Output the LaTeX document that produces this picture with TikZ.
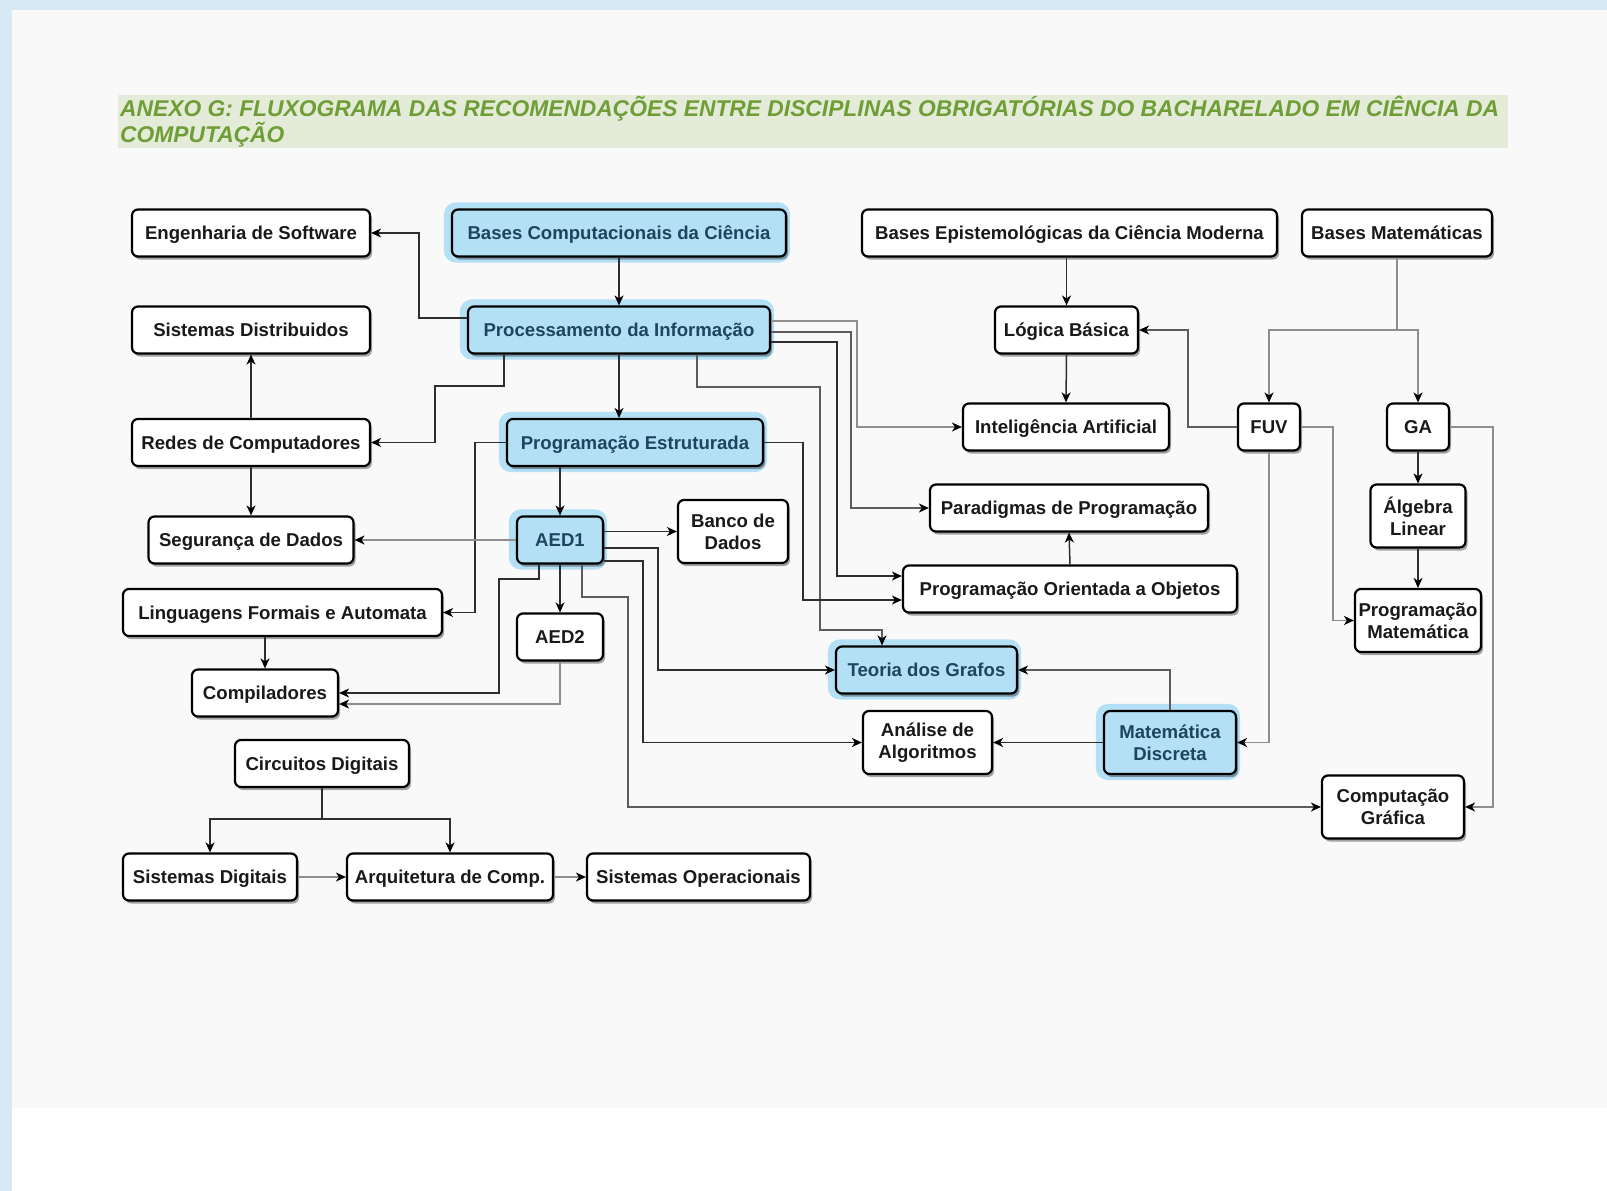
\documentclass[tikz,border=0pt]{standalone}
\usepackage{fontspec}
\setmainfont{Liberation Sans}
\usetikzlibrary{arrows.meta,shadows,backgrounds}
\definecolor{frameblue}{HTML}{D7E9F4}
\definecolor{pagegray}{HTML}{F9F9F9}
\definecolor{titlebg}{HTML}{E4EBD8}
\definecolor{titlegreen}{HTML}{6F9D36}
\definecolor{hlblue}{HTML}{B4E0F6}
\definecolor{hltext}{HTML}{1E4460}
\definecolor{edgedark}{HTML}{2E2E2E}
\definecolor{edgemid}{HTML}{5C5C5C}
\definecolor{edgelight}{HTML}{8E8E8E}
\newcommand\boxfont{\fontsize{18.6}{22}\selectfont\bfseries}
\newcommand\titlefont{\fontsize{22.8}{26}\selectfont\bfseries\itshape}
\tikzset{
  box/.style={draw=black, line width=2.2pt, rounded corners=6pt, fill=white,
    font=\boxfont, text=black!90, inner sep=0pt, minimum height=47pt,
    drop shadow={shadow xshift=2pt, shadow yshift=-3pt, opacity=0.35, fill=black}},
  one/.style={text height=13.3pt, text depth=0pt},
  two/.style={align=center, minimum height=63pt},
  hl/.style={fill=hlblue, text=hltext},
  conn/.style={line width=1.5pt, draw=edgedark,
    -{Stealth[length=10pt,width=9pt,inset=3pt,color=black]}},
  connm/.style={conn, draw=edgemid},
  connl/.style={conn, draw=edgelight},
}
\begin{document}
\begin{tikzpicture}[x=1pt,y=-1pt]
\useasboundingbox (0,0) rectangle (1607,1191);
\begin{pgfonlayer}{background}
\fill[white] (0,0) rectangle (1607,1191);
\fill[frameblue] (0,0) rectangle (1607,10);
\fill[frameblue] (0,0) rectangle (12,1191);
\fill[pagegray] (12,10) rectangle (1607,1108);
\end{pgfonlayer}
% title
\fill[titlebg] (118,95) rectangle (1508,148);
\node[anchor=base west, font=\titlefont, text=titlegreen, inner sep=0pt] (t1) at (120,116.5)
  {ANEXO G: FLUXOGRAMA DAS RECOMENDAÇÕES ENTRE DISCIPLINAS OBRIGATÓRIAS DO BACHARELADO EM CIÊNCIA DA};
\node[anchor=base west, font=\titlefont, text=titlegreen, inner sep=0pt] (t2) at (120,142.5)
  {COMPUTAÇÃO};
% nodes
\node[box,one,minimum width=238pt] (eng) at (251,233) {Engenharia de Software};
\node[box,one,hl,minimum width=334pt] (bcc) at (619,233) {Bases Computacionais da Ciência};
\node[box,one,minimum width=415pt] (bep) at (1069.5,233) {Bases Epistemológicas da Ciência Moderna};
\node[box,one,minimum width=190pt] (bmat) at (1397,233) {Bases Matemáticas};
\node[box,one,minimum width=238pt] (sd) at (251,330) {Sistemas Distribuidos};
\node[box,one,hl,minimum width=302pt] (proc) at (619,330) {Processamento da Informação};
\node[box,one,minimum width=143pt] (logb) at (1066.5,330) {Lógica Básica};
\node[box,one,minimum width=238pt] (redes) at (251,442.5) {Redes de Computadores};
\node[box,one,hl,minimum width=256pt] (pe) at (635,442.5) {Programação Estruturada};
\node[box,one,minimum width=206pt] (ia) at (1066,427) {Inteligência Artificial};
\node[box,one,minimum width=62pt] (fuv) at (1269,427) {FUV};
\node[box,one,minimum width=62pt] (ga) at (1418,427) {GA};
\node[box,one,minimum width=205pt] (seg) at (251,540) {Segurança de Dados};
\node[box,one,hl,minimum width=86pt] (aed1) at (560,540) {AED1};
\node[box,two,minimum width=110pt] (bd) at (733,531.5) {Banco de\\Dados};
\node[box,one,minimum width=278pt] (par) at (1069,508) {Paradigmas de Programação};
\node[box,two,minimum width=95pt] (alg) at (1418,516) {Álgebra\\Linear};
\node[box,one,minimum width=319pt] (ling) at (282.5,612.5) {Linguagens Formais e Automata};
\node[box,one,minimum width=86pt] (aed2) at (560,637) {AED2};
\node[box,one,minimum width=334pt] (poo) at (1070,589) {Programação Orientada a Objetos};
\node[box,two,minimum width=126pt] (pmat) at (1418,620.5) {Programação\\Matemática};
\node[box,one,minimum width=146pt] (comp) at (265,693) {Compiladores};
\node[box,one,hl,minimum width=181pt] (tg) at (926.5,670) {Teoria dos Grafos};
\node[box,two,minimum width=129pt] (aa) at (927.5,742.5) {Análise de\\Algoritmos};
\node[box,two,hl,minimum width=132pt] (md) at (1170,742.5) {Matemática\\Discreta};
\node[box,one,minimum width=174pt] (circ) at (322,763.5) {Circuitos Digitais};
\node[box,two,minimum width=142pt] (cg) at (1393,807) {Computação\\Gráfica};
\node[box,one,minimum width=174pt] (sdig) at (210,877) {Sistemas Digitais};
\node[box,one,minimum width=206pt] (arq) at (450,877) {Arquitetura de Comp.};
\node[box,one,minimum width=223pt] (so) at (698.5,877) {Sistemas Operacionais};
% highlighter blobs
\begin{pgfonlayer}{background}
\foreach \n in {bcc,proc,pe,aed1,tg,md}
  \fill[hlblue, rounded corners=12pt] ([xshift=-7pt,yshift=6pt]\n.north west) rectangle ([xshift=3pt,yshift=-5pt]\n.south east);
\end{pgfonlayer}
% connectors
\draw[conn] (bcc.south) -- (proc.north);
\draw[conn] (proc.west |- 0,318) -- (419,318) |- (eng.east);
\draw[conn] (504,0 |- proc.south) |- (435,386) |- (redes.east);
\draw[conn] (619,0 |- proc.south) -- (619,0 |- pe.north);
\draw[connl] (proc.east |- 0,321) -| (857,0 |- ia.west) -- (ia.west);
\draw[connm] (proc.east |- 0,332) -| (851,0 |- par.west) -- (par.west);
\draw[conn] (proc.east |- 0,342) -| (837,576) -- (poo.west |- 0,576);
\draw[connm] (697,0 |- proc.south) |- (820,387) |- (882,630) -- (882,0 |- tg.north);
\draw[conn] (pe.east) -| (803,600) -- (poo.west |- 0,600);
\draw[conn] (pe.west) -| (475,0 |- ling.east) -- (ling.east);
\draw[conn] (560,0 |- pe.south) -- (aed1.north);
\draw[conn] (redes.north) -- (sd.south);
\draw[conn] (redes.south) -- (seg.north);
\draw[connl] (aed1.west) -- (seg.east);
\draw[conn] (aed1.east |- bd.west) -- (bd.west);
\draw[conn] (aed1.east |- 0,548) -| (658,0 |- tg.west) -- (tg.west);
\draw[conn] (aed1.east |- 0,561) -| (643,0 |- aa.west) -- (aa.west);
\draw[connm] (582,0 |- aed1.south) |- (628,597) |- (cg.west);
\draw[conn] (aed1.south) -- (aed2.north);
\draw[conn] (539,0 |- aed1.south) |- (499,579) |- (comp.east |- 0,693);
\draw[connl] (aed2.south) |- (comp.east |- 0,704);
\draw[conn] (265,0 |- ling.south) -- (comp.north);
\coordinate (cj) at (322,819);
\draw[conn,-] (circ.south) -- (cj);
\draw[conn] (cj) -| (sdig.north);
\draw[conn] (cj) -| (arq.north);
\draw[connl] (sdig.east) -- (arq.west);
\draw[connl] (arq.east) -- (so.west);
\draw[conn] (logb.north |- bep.south) -- (logb.north);
\draw[conn] (logb.south) -- (ia.north);
\draw[connm] (fuv.west) -| (1188,0 |- logb.east) -- (logb.east);
\coordinate (bj) at (1397,330);
\draw[connl,-] (bmat.south) -- (bj);
\draw[connl] (bj) -| (fuv.north);
\draw[connl] (bj) -| (ga.north);
\draw[connl] (fuv.south) |- (md.east);
\draw[connl] (fuv.east) -| (1333,0 |- pmat.west) -- (pmat.west);
\draw[conn] (ga.south) -- (alg.north);
\draw[conn] (alg.south) -- (pmat.north);
\draw[connl] (ga.east) -| (1493,0 |- cg.east) -- (cg.east);
\draw[connm] (md.north) |- (tg.east);
\draw[conn] (md.west) -- (aa.east);
\draw[conn] (poo.north) -- (par.south);
\end{tikzpicture}
\end{document}
